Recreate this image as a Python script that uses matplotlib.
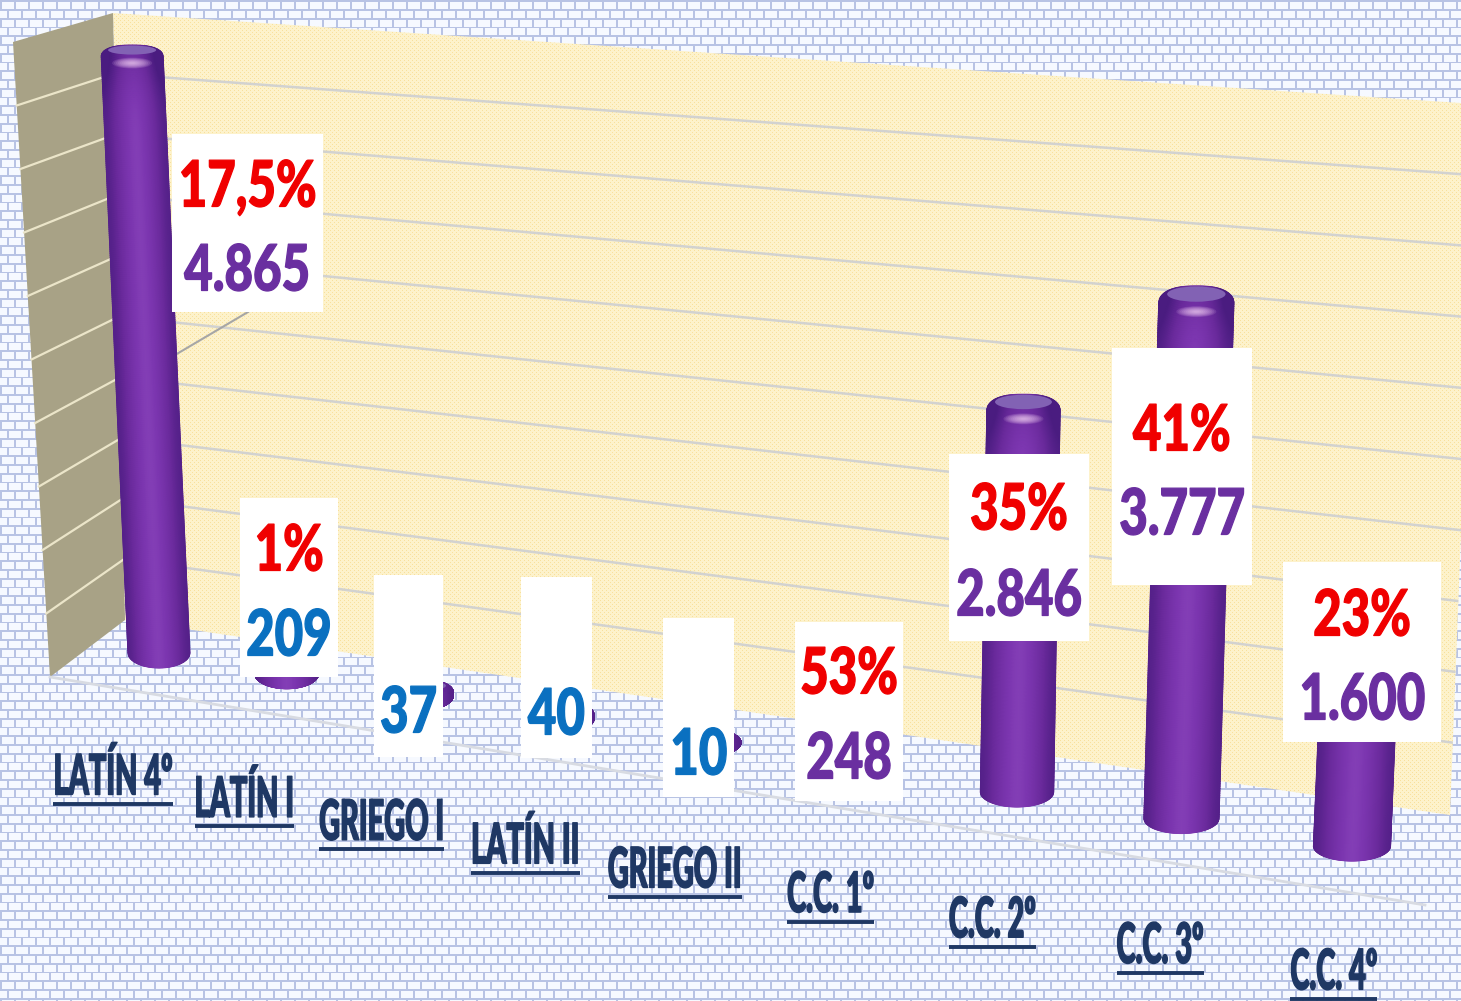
import numpy as np
import matplotlib
matplotlib.use("Agg")
import matplotlib.pyplot as plt
from matplotlib.colors import LinearSegmentedColormap, to_rgb
from matplotlib.patches import Ellipse, Polygon, Rectangle
from matplotlib.patheffects import AbstractPathEffect
from matplotlib.transforms import Affine2D

# Chart values
categories = ["LATÍN 4º", "LATÍN I", "GRIEGO I", "LATÍN II", "GRIEGO II",
              "C.C. 1º", "C.C. 2º", "C.C. 3º", "C.C. 4º"]
values = [4865, 209, 37, 40, 10, 248, 2846, 3777, 1600]
value_labels = ["4.865", "209", "37", "40", "10", "248", "2.846", "3.777", "1.600"]
pct_labels = ["17,5%", "1%", "", "", "", "53%", "35%", "41%", "23%"]

# Colours of the value text
BLUE = "#0a70c0"
PURPLE = "#6a2fa0"
value_colors = [PURPLE, BLUE, BLUE, BLUE, BLUE, PURPLE, PURPLE, PURPLE, PURPLE]

# White boxes behind the values: left, right, top, bottom
label_boxes = [(172, 323, 134, 312), (240, 338, 498, 677), (374, 443, 575, 757),
               (521, 592, 577, 758), (663, 734, 618, 797), (795, 903, 622, 801),
               (949, 1089, 454, 641), (1112, 1252, 348, 585), (1283, 1441, 562, 742)]
pct_y = [188, 552, 0, 0, 0, 675, 511, 432, 617]
value_y = [272, 637, 714, 716, 756, 760, 597, 516, 701]

W, H = 1461, 1001

purple_map = LinearSegmentedColormap.from_list(
    "cyl", ["#4a1c80", "#6a2a9c", "#7c36b0", "#9a58c8"])


# Squeeze text sideways about its middle, stretch it up from the baseline, thicken it
class Reshape(AbstractPathEffect):
    def __init__(self, sx, sy, stroke):
        super().__init__()
        self.sx = sx
        self.sy = sy
        self.stroke = stroke

    def draw_path(self, renderer, gc, tpath, affine, rgbFace=None):
        box = tpath.get_extents()
        mid = (box.x0 + box.x1) / 2
        shape = Affine2D().translate(-mid, 0).scale(self.sx, self.sy).translate(mid, 0)
        gc0 = renderer.new_gc()
        gc0.copy_properties(gc)
        gc0.set_linewidth(self.stroke)
        gc0.set_foreground(rgbFace)
        renderer.draw_path(gc0, tpath, shape + affine, rgbFace)
        gc0.restore()


# Brick wall texture for the background
def brick_texture():
    yy, xx = np.mgrid[0:H, 0:W]
    row = (yy / 8.75).astype(int)
    horizontal = (yy % 8.75) < 1.7
    vertical = ((xx + (row % 2) * 7) % 14) < 1.7
    img = np.empty((H, W, 3))
    img[:] = to_rgb("#f6f9ff")
    img[horizontal | vertical] = to_rgb("#b8c3e4")
    return img


# Dotted cream texture for the back wall
def wall_texture():
    yy, xx = np.mgrid[0:H, 0:W]
    img = np.empty((H, W, 3))
    img[:] = to_rgb("#fdf2cb")
    img[(xx % 4 == 0) & (yy % 4 == 0)] = to_rgb("#f8e09c")
    img[(xx % 4 == 2) & (yy % 4 == 2)] = to_rgb("#f8e09c")
    return img


def base_x(i):
    return 159 + 127.7 * i + 3.06 * i * (i - 1)


def draw_cylinder(ax, i, value):
    r = 31 + 0.95 * i
    b = 15
    t = 11
    bottom = 668 + 20.77 * i + 0.48 * i * (i - 1)
    xb = base_x(i)
    yb = bottom - b
    h = value * (0.1227 + 0.0022 * i)
    lean = (xb - 784) * 7.2e-5 * h
    xt, yt = xb + lean, yb - h
    top = yt - t
    rim_t = t + 0.8 * i

    u = np.linspace(-0.999, 0.999, 81)
    v = np.linspace(0, 1, 300)
    U, V = np.meshgrid(u, v)
    arc = np.sqrt(1 - U ** 2)
    shoulder = top + rim_t - rim_t * (1 - np.abs(U) ** 2.6) ** 0.5
    X = xb + lean * V + U * r
    Y = (yb + b * arc) * (1 - V) + shoulder * V

    # Shading: dark at the edges with a soft sheen, darker towards the cap
    C = 0.12 + 0.62 * np.cos(U * np.pi / 2) ** 1.5
    C = C - 0.32 * np.exp(-((Y - top) / 42) ** 2) * (h > 60)
    ax.pcolormesh(X, Y, np.clip(C, 0, 1), shading="gouraud", cmap=purple_map,
                  vmin=0, vmax=1, zorder=5, rasterized=True)

    # Lighter cap and the small bright spot; the cap opens up along the row
    cap_t = 4.5 + 0.45 * i
    ax.add_patch(Ellipse((xt, top + cap_t + 0.5), 1.55 * r, 2 * cap_t, color="#8262b4",
                         lw=0, zorder=7))
    if h > 60:
        spot = top + 18 + 1.1 * i
        for scale in np.linspace(1, 0.15, 10):
            ax.add_patch(Ellipse((xt, spot), 40 * scale, 11 * scale, color="#f6d4f6",
                                 alpha=0.12, lw=0, zorder=7))


def main():
    plt.rcParams["font.family"] = ["Lato", "DejaVu Sans"]
    fig = plt.figure(figsize=(W / 100, H / 100), dpi=100)
    ax = fig.add_axes([0, 0, 1, 1])
    ax.set_xlim(0, W)
    ax.set_ylim(H, 0)
    ax.axis("off")

    ax.imshow(brick_texture(), extent=(0, W, H, 0), aspect="auto", zorder=0,
              interpolation="bilinear")

    # Back wall and side wall
    back = Polygon([(113, 13), (W, 103), (W, 534), (1450, 815), (125, 620)],
                   closed=True, fc="none", ec="none", transform=ax.transData)
    ax.add_patch(back)
    wall = ax.imshow(wall_texture(), extent=(0, W, H, 0), aspect="auto", zorder=1,
                     interpolation="bilinear")
    wall.set_clip_path(back)
    ax.add_patch(Polygon([(13, 42), (113, 13), (125, 620), (50, 677)], closed=True,
                         fc="#a8a286", ec="none", zorder=1))

    # Grid lines on both walls and the floor
    for k in range(1, 10):
        line, = ax.plot([113 + 1.2 * k, W], [13 + 60.7 * k, 103 + 71.2 * k],
                        color="#d2d2d0", lw=1.8, zorder=2, solid_capstyle="butt")
        line.set_clip_path(back)
        ax.plot([13 + 3.7 * k, 113 + 1.2 * k], [42 + 63.5 * k, 13 + 60.7 * k],
                color="#ebe5c9", lw=1.6, zorder=2)
    ax.plot([50, 1425], [677, 905], color="#d8dbe2", lw=2, zorder=2)
    ax.plot([175, 248], [355, 312], color="#a6a6a6", lw=1.5, zorder=4)

    for i, value in enumerate(values):
        draw_cylinder(ax, i, value)

    # Value boxes
    squeeze = [Reshape(0.77, 1.0, 0.9)]
    for i, (left, right, top, bottom) in enumerate(label_boxes):
        ax.add_patch(Rectangle((left, top), right - left, bottom - top, fc="white",
                               ec="none", zorder=8))
        cx = (left + right) / 2
        if pct_labels[i]:
            ax.text(cx, pct_y[i], pct_labels[i], color="#f00000", fontsize=46,
                    fontweight="black", ha="center", va="center", zorder=9,
                    path_effects=squeeze)
        ax.text(cx, value_y[i], value_labels[i], color=value_colors[i], fontsize=46,
                fontweight="black", ha="center", va="center", zorder=9,
                path_effects=squeeze)

    # Category labels with their underlines
    fig.canvas.draw()
    renderer = fig.canvas.get_renderer()
    label_sx = 0.8
    for i, name in enumerate(categories):
        cx = 113 + 131.4 * i + 3.03 * i * (i - 1)
        base = 794.5 + 22.4 * i + 0.28 * i * (i - 1)
        label = ax.text(cx, base, name, color="#1f3864", fontsize=26, fontweight="black",
                        ha="center", va="baseline", zorder=9,
                        path_effects=[Reshape(label_sx, 1.55, 1.0)])
        width = label.get_window_extent(renderer).width * label_sx
        ax.plot([cx - width / 2, cx + width / 2], [base + 9.5, base + 9.5],
                color="#1f3864", lw=2.8, zorder=9, solid_capstyle="butt")

    fig.savefig("out.png", dpi=100)
    plt.close(fig)


if __name__ == "__main__":
    main()
